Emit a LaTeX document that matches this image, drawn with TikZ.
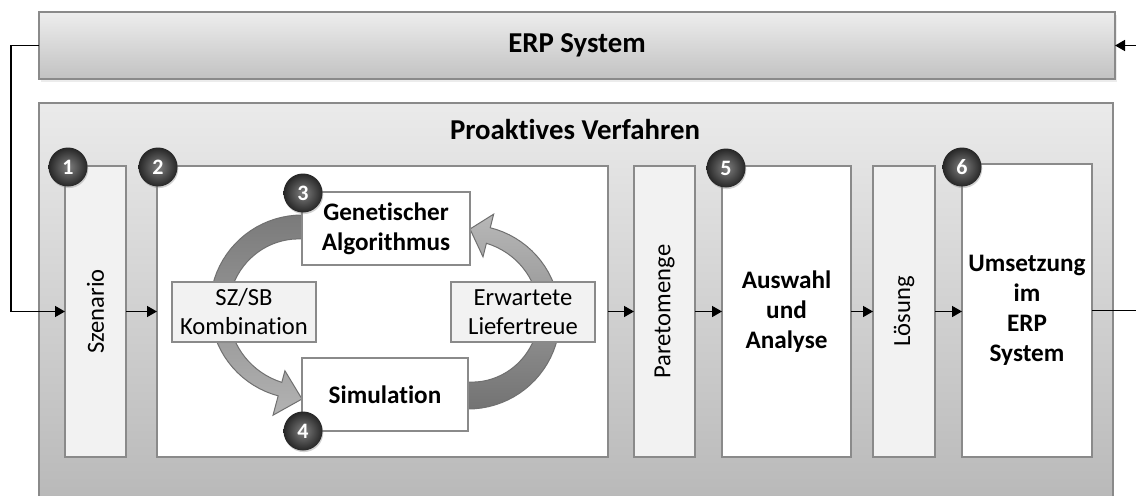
\documentclass[tikz,border=0pt]{standalone}
\usepackage{fontspec}
\setmainfont{Carlito}[Ligatures={NoCommon}]
\usetikzlibrary{arrows.meta,shadows}
\definecolor{boxline}{HTML}{8A8A8A}
\definecolor{panel}{HTML}{F2F2F2}
\definecolor{arrowline}{HTML}{707070}
\tikzset{
  box/.style={draw=boxline, line width=0.6pt, inner sep=0pt, outer sep=0pt},
  whitebox/.style={box, fill=white},
  panelbox/.style={box, fill=panel},
  conn/.style={line width=0.75pt, -{Triangle[length=5pt,width=5.5pt]}},
  badge/.style={circle, minimum size=19.5pt, inner sep=0pt,
    shading=radial, inner color=black!50, outer color=black!85,
    drop shadow={opacity=0.35, shadow xshift=0.4pt, shadow yshift=-0.8pt},
    text=white, font=\fontsize{11}{11}\selectfont\bfseries},
  title/.style={font=\fontsize{14.4}{17}\selectfont\bfseries, align=center},
  bold/.style={font=\fontsize{12.6}{15}\selectfont\bfseries, align=center},
  txt/.style={font=\fontsize{12.3}{14.5}\selectfont, align=center},
  bigarrow/.style={draw=arrowline, line width=0.5pt}
}
\begin{document}
\begin{tikzpicture}[x=0.5pt, y=-0.5pt]
\useasboundingbox (0,0) rectangle (1136,495);
\clip (0,0) rectangle (1136,495);
\fill[white] (0,0) rectangle (1136,495);

% ERP system bar
\node[box, top color=black!7, bottom color=black!24, minimum width=538pt, minimum height=33.5pt,
  drop shadow={opacity=0.15, shadow xshift=1pt, shadow yshift=-1.5pt}]
  (erp) at (577,45.5) {};
\node[title] (erptxt) at (erp) {ERP System};

% outer process panel
\node[box, top color=black!8, bottom color=black!28, minimum width=537pt, minimum height=203.5pt]
  (proc) at (576,306.5) {};
\node[title] (proctxt) at (575,129) {Proaktives Verfahren};

% process steps
\node[panelbox, minimum width=30.5pt, minimum height=145.5pt] (szen) at (95.5,311.5) {};
\node[txt, rotate=90] (szentxt) at (szen) {Szenario};
\node[whitebox, minimum width=225.5pt, minimum height=145.5pt] (opt) at (382.5,311.5) {};

% circular arrows between optimisation and simulation
\path[bigarrow, top color=black!52, bottom color=black!30]
  plot[domain=270:105, samples=40] ({302+92*cos(\x)},{307+92*sin(\x)})
  -- ({302+112*cos(105)},{307+112*sin(105)}) -- (302,399)
  -- ({302+66*cos(105)},{307+66*sin(105)})
  -- plot[domain=105:270, samples=40] ({302+(78-(\x-105)/165*10)*cos(\x)},{307+(78-(\x-105)/165*10)*sin(\x)})
  -- cycle;
\path[bigarrow, top color=black!28, bottom color=black!55]
  plot[domain=90:-76, samples=40] ({468+92*cos(\x)},{317+92*sin(\x)})
  -- ({468+106*cos(-76)},{317+106*sin(-76)}) -- (470,229)
  -- ({468+62*cos(-76)},{317+62*sin(-76)})
  -- plot[domain=-76:90, samples=40] ({468+(76-(\x+76)/166*11)*cos(\x)},{317+(76-(\x+76)/166*11)*sin(\x)})
  -- cycle;

\node[whitebox, minimum width=84pt, minimum height=36.5pt] (ga) at (386,228.5) {};
\node[bold] (gatxt) at (ga) {Genetischer\\Algorithmus};
\node[whitebox, minimum width=83pt, minimum height=36.5pt] (sim) at (385,394.5) {};
\node[bold] (simtxt) at (sim) {Simulation};
\node[panelbox, minimum width=72pt, minimum height=30pt] (szsb) at (244,312) {};
\node[txt] (szsbtxt) at (szsb) {SZ/SB\\Kombination};
\node[panelbox, minimum width=72pt, minimum height=30pt] (lt) at (523,312) {};
\node[txt] (lttxt) at (lt) {Erwartete\\Liefertreue};

\node[panelbox, minimum width=30.5pt, minimum height=145.5pt] (pareto) at (664.5,311.5) {};
\node[txt, rotate=90] (paretotxt) at (pareto) {Paretomenge};
\node[whitebox, minimum width=64.5pt, minimum height=145.5pt] (ausw) at (786.5,311.5) {};
\node[bold] (auswtxt) at (ausw) {Auswahl\\und\\Analyse};
\node[panelbox, minimum width=31pt, minimum height=145.5pt] (loes) at (904,311.5) {};
\node[txt, rotate=90] (loestxt) at (loes) {Lösung};
\node[whitebox, minimum width=65pt, minimum height=146.5pt] (ums) at (1027,310.5) {};
\node[bold] (umstxt) at (ums) {Umsetzung\\im\\ERP\\System};

% numbered badges
\node[badge] (b1) at ([shift={(3,1)}]szen.north west) {1};
\node[badge] (b2) at ([shift={(1,1)}]opt.north west) {2};
\node[badge] (b3) at ([shift={(1,1)}]ga.north west) {3};
\node[badge] (b4) at ([shift={(1,0)}]sim.south west) {4};
\node[badge] (b5) at ([shift={(4,2)}]ausw.north west) {5};
\node[badge] (b6) at ([shift={(0,3)}]ums.north west) {6};

% connectors
\draw[conn] (erp.west) -- ++(-28,0) |- (szen.west);
\draw[conn] (szen.east) -- (szen.east -| opt.west);
\draw[conn] (opt.east) -- (opt.east -| pareto.west);
\draw[conn] (pareto.east) -- (pareto.east -| ausw.west);
\draw[conn] (ausw.east) -- (ausw.east -| loes.west);
\draw[conn] (loes.east) -- (loes.east -| ums.west);
\draw[conn] (ums.east) -- ++(60,0) |- (erp.east);
\end{tikzpicture}
\end{document}
